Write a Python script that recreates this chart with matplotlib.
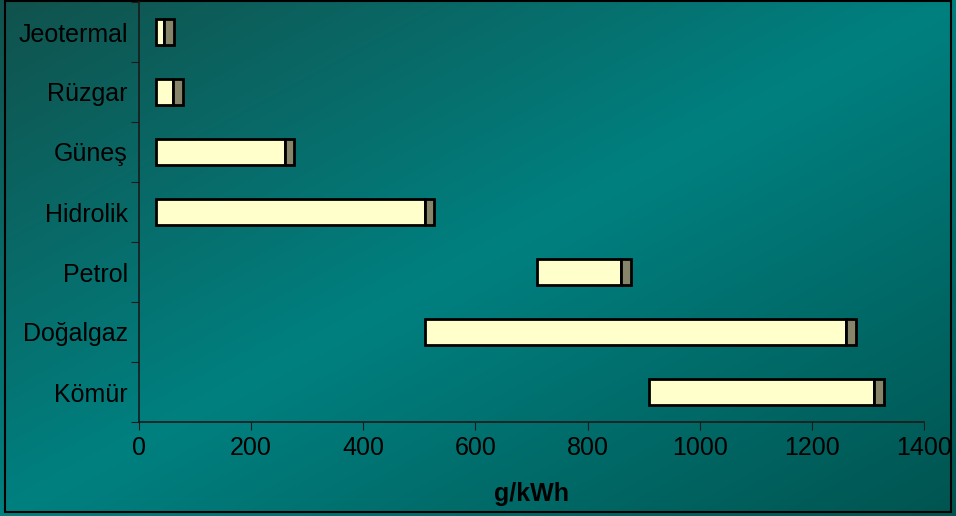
import numpy as np
import matplotlib.pyplot as plt
from matplotlib.colors import LinearSegmentedColormap
from matplotlib.patches import Rectangle

plt.rcParams['font.family'] = ['Liberation Sans', 'DejaVu Sans']

# emission ranges, g/kWh
sources = ['Kömür', 'Doğalgaz', 'Petrol', 'Hidrolik', 'Güneş', 'Rüzgar', 'Jeotermal']
range_start = [910, 510, 710, 30, 30, 30, 30]
range_span = [400, 750, 150, 480, 230, 30, 15]
range_tail = [18, 19, 18, 16, 16, 18, 18]
xticks = [0, 200, 400, 600, 800, 1000, 1200, 1400]

fig = plt.figure(figsize=(9.56, 5.16), dpi=100)

# diagonal teal gradient behind everything
bg = fig.add_axes([0, 0, 1, 1], zorder=-1)
W, H = 956, 516
xx, yy = np.meshgrid(np.linspace(0, 1, W), np.linspace(0, 1, H))
t = (xx + yy) / 2
cmap = LinearSegmentedColormap.from_list(
    'teal', [(0.0, '#11524d'), (0.5, '#008080'), (1.0, '#005450')])
bg.imshow(t, cmap=cmap, aspect='auto', extent=[0, 1, 0, 1], origin='upper')
bg.add_patch(Rectangle((5 / W, 4 / H), 946 / W, 511 / H, fill=False,
                       edgecolor='black', linewidth=1.5, transform=bg.transAxes))
bg.set_axis_off()

ax = fig.add_axes([139 / W, 1 - 422 / H, 785 / W, 420 / H])
ax.patch.set_alpha(0)

y = np.arange(len(sources))
h = 0.42
ax.barh(y, range_start, height=h, color='none', edgecolor='none')
ax.barh(y, range_span, left=range_start, height=h, color='#ffffcc',
        edgecolor='black', linewidth=2)
ends = np.array(range_start) + np.array(range_span)
ax.barh(y, range_tail, left=ends, height=h, color='#878569',
        edgecolor='black', linewidth=2)

ax.set_xlim(0, 1400)
ax.set_ylim(-0.5, len(sources) - 0.5)
ax.set_xticks(xticks)
ax.set_xticklabels([str(v) for v in xticks], fontsize=18)
ax.set_yticks(np.arange(len(sources) + 1) - 0.5, minor=False)
ax.set_yticklabels([])
ax.set_yticks(y, minor=True)
ax.set_yticklabels(sources, minor=True, fontsize=18)
ax.tick_params(axis='y', which='minor', length=0, pad=8)
ax.tick_params(axis='y', which='major', length=6, direction='out', color='#1a1a1a')
ax.tick_params(axis='x', length=6, direction='out', pad=4, color='#1a1a1a')

for side in ['top', 'right']:
    ax.spines[side].set_visible(False)
for side in ['left', 'bottom']:
    ax.spines[side].set_color('#1a1a1a')
    ax.spines[side].set_linewidth(1.2)

ax.set_xlabel('g/kWh', fontsize=18, fontweight='bold', labelpad=16)

fig.savefig('out.png', dpi=100)
